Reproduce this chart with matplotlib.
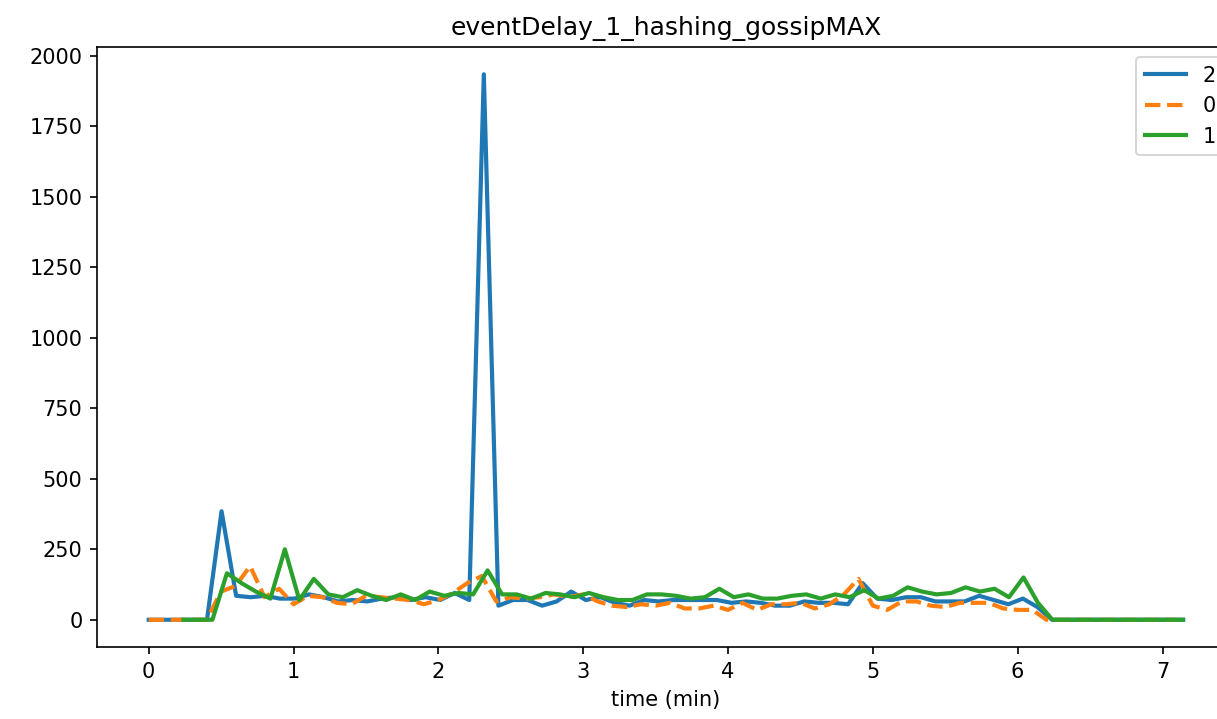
import matplotlib
matplotlib.use("Agg")
import matplotlib.pyplot as plt
import numpy as np

title = "eventDelay_1_hashing_gossipMAX"

# node 2 (blue), sampled roughly every 0.1 min from t=0
t2_start, t2_step = 0.0, 0.1006
d2 = [0, 0, 0, 0, 0,
      385, 85, 80, 85, 75, 75, 90, 80, 65, 70,
      65, 75, 80, 70, 80, 70, 95, 70, 1935, 50,
      70, 70, 50, 65, 100, 70, 80, 60, 50, 70,
      65, 70, 70, 70, 70, 60, 65, 60, 50, 50,
      65, 60, 60, 55, 130, 75, 70, 80, 80, 65,
      65, 65, 85, 70, 55, 75, 45, 0,
      0, 0, 0, 0, 0, 0, 0, 0, 0]

# node 0 (orange, dashed)
t0_start, t0_step = 0.0, 0.1
d0 = [0, 0, 0, 0, 0,
      100, 120, 190, 80, 110, 55, 85, 80, 60, 55,
      85, 80, 75, 70, 55, 70, 95, 130, 155, 65,
      80, 75, 80, 90, 80, 90, 65, 50, 45, 55,
      50, 60, 40, 40, 50, 35, 60, 35, 55, 55,
      60, 40, 55, 90, 145, 50, 35, 65, 65, 50,
      45, 60, 60, 60, 40, 35, 35, 0,
      0, 0, 0, 0, 0, 0, 0, 0, 0]

# node 1 (green)
t1_start, t1_step = 0.24, 0.1
d1 = [0, 0, 0,
      165, 130, 100, 75, 250, 70, 145, 90, 80, 105,
      85, 70, 90, 70, 100, 85, 95, 90, 175, 90,
      90, 75, 95, 90, 80, 95, 80, 70, 70, 90,
      90, 85, 75, 80, 110, 80, 90, 75, 75, 85,
      90, 75, 90, 80, 105, 75, 85, 115, 100, 90,
      95, 115, 100, 110, 80, 150, 60, 0,
      0, 0, 0, 0, 0, 0, 0, 0, 0]

series = [
    ("2", t2_start, t2_step, d2, "#1f77b4", "-"),
    ("0", t0_start, t0_step, d0, "#ff7f0e", "--"),
    ("1", t1_start, t1_step, d1, "#2ca02c", "-"),
]

# the original was saved at 150 dpi with default sizes;
# the axes run past the right edge, so the legend gets clipped
fig = plt.figure(figsize=(1217 / 150, 719 / 150), dpi=150)
ax = fig.add_axes([0.0797, 0.1001, 0.935, 0.8345])

for name, start, step, vals, color, ls in series:
    t = start + step * np.arange(len(vals))
    ax.plot(t, vals, color=color, linestyle=ls, linewidth=2, label=name)

ax.set_title(title)
ax.set_xlabel("time (min)")
ax.set_xticks(range(8))
ax.set_yticks(np.arange(0, 2001, 250))
ax.legend(loc="upper right")

fig.savefig("out.png", dpi=150)
